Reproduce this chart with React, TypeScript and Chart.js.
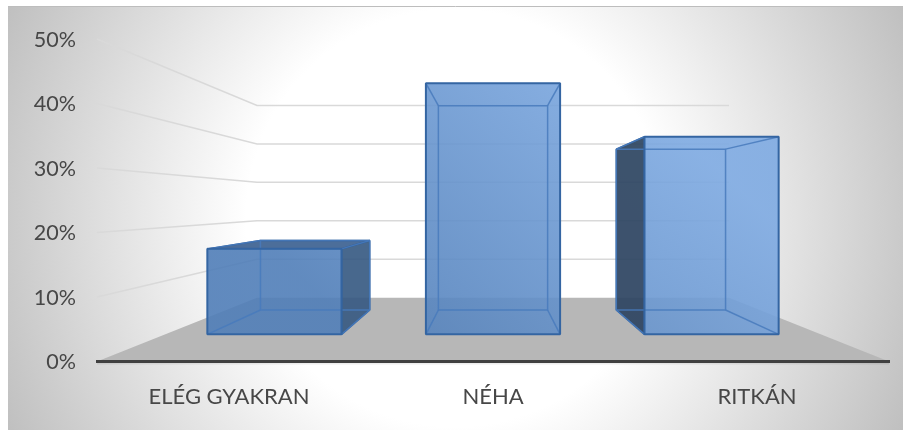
import React, { useEffect, useRef } from "react";
import { Chart, registerables } from "chart.js";

Chart.register(...registerables);

const categories = ["ELÉG GYAKRAN", "NÉHA", "RITKÁN"];
const shares = [16, 47, 37];
const yTicksStep = 10;
const yMax = 50;

const VY = 203.5;
const SHRINK = 0.404;
const BAR_Z0 = 0.426;
const BAR_Z1 = 0.807;

type Pt = [number, number];

function poly(ctx: CanvasRenderingContext2D, pts: Pt[], fill?: any, stroke?: string, lw = 1.5) {
  ctx.beginPath();
  pts.forEach((p, i) => (i ? ctx.lineTo(p[0], p[1]) : ctx.moveTo(p[0], p[1])));
  ctx.closePath();
  if (fill) {
    ctx.fillStyle = fill;
    ctx.fill();
  }
  if (stroke) {
    ctx.strokeStyle = stroke;
    ctx.lineWidth = lw;
    ctx.lineJoin = "bevel";
    ctx.stroke();
  }
}

const scene3d = {
  id: "scene3d",
  beforeDraw(chart: any) {
    const { ctx, chartArea: a, scales } = chart;
    const VX = (a.left + a.right) / 2;
    const proj = (x: number, y: number, z: number): Pt => {
      const s = 1 - SHRINK * z;
      return [VX + s * (x - VX), VY + s * (y - VY)];
    };
    ctx.save();
    ctx.fillStyle = "#ffffff";
    ctx.fillRect(0, 0, 903, 430);
    const g = ctx.createRadialGradient(455, 218, 0, 455, 218, 497);
    g.addColorStop(0, "#ffffff");
    g.addColorStop(0.42, "#ffffff");
    g.addColorStop(1, "#bfbfbf");
    ctx.fillStyle = g;
    ctx.fillRect(8, 6, 895, 424);
    ctx.strokeStyle = "#bdbdbd";
    ctx.lineWidth = 1;
    ctx.beginPath();
    ctx.moveTo(8, 6.5);
    ctx.lineTo(903, 6.5);
    ctx.stroke();

    const y0 = scales.y.getPixelForValue(0);
    poly(ctx, [proj(a.left, y0, 0), proj(a.right, y0, 0), proj(a.right, y0, 1), proj(a.left, y0, 1)], "#b7b7b7");

    ctx.strokeStyle = "rgba(0,0,0,0.07)";
    ctx.lineWidth = 1.5;
    ctx.beginPath();
    ctx.moveTo(a.left, y0 + 2.2);
    ctx.lineTo(a.right, y0 + 2.2);
    ctx.stroke();

    ctx.strokeStyle = "#d9d9d9";
    ctx.lineWidth = 1.5;
    scales.y.ticks.forEach((t: any) => {
      if (t.value === 0) return;
      const y = scales.y.getPixelForValue(t.value);
      const f = proj(a.left, y, 0);
      const b = proj(a.left, y, 1);
      const r = proj(a.right, y, 1);
      ctx.beginPath();
      ctx.moveTo(f[0], f[1]);
      ctx.lineTo(b[0], b[1]);
      ctx.lineTo(r[0], r[1]);
      ctx.stroke();
    });
    ctx.restore();
  },
  beforeDatasetDraw(chart: any, args: any) {
    const { ctx, chartArea: a } = chart;
    const VX = (a.left + a.right) / 2;
    const proj = (x: number, y: number, z: number): Pt => {
      const s = 1 - SHRINK * z;
      return [VX + s * (x - VX), VY + s * (y - VY)];
    };
    const grad = (alpha: number) => {
      const g = ctx.createLinearGradient(a.right - 270, 75, a.left + 270, 340);
      g.addColorStop(0, `rgba(126,170,226,${alpha})`);
      g.addColorStop(1, `rgba(80,126,184,${alpha})`);
      return g;
    };
    const inner = "rgba(72,122,188,0.85)";
    args.meta.data.forEach((el: any) => {
      const outer = "#2f5d96";
      const l = el.x - el.width / 2;
      const r = el.x + el.width / 2;
      const t = el.y;
      const b = el.base;
      const FTL = proj(l, t, BAR_Z0), FTR = proj(r, t, BAR_Z0), FBL = proj(l, b, BAR_Z0), FBR = proj(r, b, BAR_Z0);
      const BTL = proj(l, t, BAR_Z1), BTR = proj(r, t, BAR_Z1), BBL = proj(l, b, BAR_Z1), BBR = proj(r, b, BAR_Z1);

      const rightOut = BTR[0] > FTR[0];
      const leftOut = BTL[0] < FTL[0];
      const topOut = BTL[1] < FTL[1];

      // back and inner faces, seen through the front
      poly(ctx, [BTL, BTR, BBR, BBL], grad(0.3));
      poly(ctx, [FBL, FBR, BBR, BBL], grad(0.2));
      if (!leftOut) poly(ctx, [FTL, BTL, BBL, FBL], grad(0.3));
      if (!rightOut) poly(ctx, [FTR, BTR, BBR, FBR], grad(0.3));
      if (!topOut) poly(ctx, [FTL, FTR, BTR, BTL], grad(0.3));

      // outer faces are the dark ones
      if (leftOut) poly(ctx, [FTL, BTL, BBL, FBL], "rgba(44,66,94,0.9)", outer, 1.5);
      if (rightOut) poly(ctx, [FTR, BTR, BBR, FBR], "rgba(54,88,128,0.88)", outer, 1.5);
      if (topOut) poly(ctx, [FTL, FTR, BTR, BTL], "rgba(58,94,142,0.88)", outer, 1.5);

      // front face
      poly(ctx, [FTL, FTR, FBR, FBL], grad(0.86));

      // edges seen through the front
      poly(ctx, [BTL, BTR, BBR, BBL], undefined, inner, 1.5);
      [[FTL, BTL], [FTR, BTR], [FBL, BBL], [FBR, BBR]].forEach(([p, q]) => {
        ctx.beginPath();
        ctx.moveTo(p[0], p[1]);
        ctx.lineTo(q[0], q[1]);
        ctx.strokeStyle = inner;
        ctx.lineWidth = 1.5;
        ctx.stroke();
      });
      poly(ctx, [FTL, FTR, FBR, FBL], undefined, "#3465a2", 2);
    });
    return false;
  },
};

export default function App() {
  const ref = useRef<HTMLCanvasElement>(null);
  useEffect(() => {
    const chart = new Chart(ref.current!, {
      type: "bar",
      data: {
        labels: categories,
        datasets: [
          {
            label: "Gyakoriság",
            data: shares,
            backgroundColor: "#6f9bd3",
            barPercentage: 0.614,
            categoryPercentage: 1,
          },
        ],
      },
      plugins: [scene3d],
      options: {
        responsive: false,
        animation: false,
        layout: { padding: { left: 0, right: 14, top: 39, bottom: 0 } },
        plugins: { legend: { display: false }, tooltip: { enabled: false } },
        scales: {
          x: {
            afterFit: (s: any) => {
              s.height = 68.5;
            },
            grid: { display: false, drawTicks: false },
            border: { display: true, color: "#404040", width: 3 },
            ticks: {
              padding: 22,
              maxRotation: 0,
              font: { family: "Lato", size: 22 },
              color: "#474747",
            },
          },
          y: {
            min: 0,
            max: yMax,
            afterFit: (s: any) => {
              s.width = 97;
            },
            grid: { display: false, drawTicks: false },
            border: { display: false },
            ticks: {
              stepSize: yTicksStep,
              padding: 21,
              labelOffset: 1,
              font: { family: "Lato", size: 21.5 },
              color: "#474747",
              callback: (v: any) => `${v}%`,
            },
          },
        },
      },
    } as any);
    return () => chart.destroy();
  }, []);
  return (
    <canvas
      ref={ref}
      width={903}
      height={430}
      style={{ position: "fixed", left: 0, top: 0, width: 903, height: 430 }}
    />
  );
}
